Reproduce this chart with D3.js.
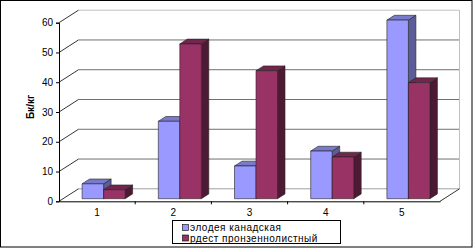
<!DOCTYPE html>
<html>
<head>
<meta charset="utf-8">
<script src="https://cdn.jsdelivr.net/npm/d3@7"></script>
<style>
  body { margin: 0; background: #fff; }
  svg { display: block; font-family: "Liberation Sans", Arial, sans-serif; }
</style>
</head>
<body>
<div id="chart"></div>
<script>
const categories = ['1', '2', '3', '4', '5'];
const seriesNames = ['элодея канадская', 'рдест пронзеннолистный'];
const elodea = [5, 26, 11, 16, 60];
const rdest = [3, 52, 43, 14, 39];
const yTicks = [0, 10, 20, 30, 40, 50, 60];

const W = 476, H = 249;
const svg = d3.select('#chart').append('svg').attr('width', W).attr('height', H);

// outer frame
svg.append('rect').attr('x', 0.5).attr('y', 0.5).attr('width', 471.5).attr('height', 246.5)
    .attr('fill', '#fff').attr('stroke', '#000');

const x = d3.scaleBand().domain(categories).range([59, 440]);
const y = d3.scaleLinear().domain([0, 60]).range([201.3, 22.7]);
const wall = { dx: 19.5, dy: -12.5 };   // depth of the back wall
const plane = { dx: 6.5, dy: -2.6 };    // where the bars stand
const bd = { dx: 7.5, dy: -4.8 };       // bar depth
const barW = 21.5;
const sx = d3.scaleBand().domain(seriesNames).range([-barW, barW]);

const colors = [
    { front: '#9999ff', side: '#5c5c99', top: '#7a7acc' },
    { front: '#993366', side: '#4d1a33', top: '#73264d' }
];

// back wall gridlines
svg.append('g').selectAll('line').data(yTicks).join('line')
    .attr('x1', 59 + wall.dx).attr('x2', 440 + wall.dx)
    .attr('y1', d => y(d) + wall.dy).attr('y2', d => y(d) + wall.dy)
    .attr('stroke', d => d === 60 ? '#c0c0c0' : (d === 0 ? '#a0a0a0' : '#707070'));
// right wall edge
svg.append('line').attr('x1', 440 + wall.dx).attr('x2', 440 + wall.dx)
    .attr('y1', y(60) + wall.dy).attr('y2', y(0) + wall.dy).attr('stroke', '#c0c0c0');
// side-wall diagonals
svg.append('g').selectAll('line').data(yTicks).join('line')
    .attr('x1', 59).attr('x2', 59 + wall.dx)
    .attr('y1', d => y(d)).attr('y2', d => y(d) + wall.dy)
    .attr('stroke', '#000').attr('stroke-width', 0.8);
// floor right diagonal
svg.append('line').attr('x1', 440).attr('y1', y(0)).attr('x2', 440 + wall.dx).attr('y2', y(0) + wall.dy)
    .attr('stroke', '#000').attr('stroke-width', 0.8);

// bars
const bars = [];
categories.forEach((c, i) => {
    [elodea[i], rdest[i]].forEach((v, s) => {
        bars.push({ c, s, v });
    });
});
const gBars = svg.append('g').attr('stroke', '#222').attr('stroke-width', 0.6).attr('stroke-linejoin', 'round');
bars.forEach(b => {
    const x0 = x(b.c) + x.bandwidth() / 2 + plane.dx + sx(seriesNames[b.s]);
    const x1 = x0 + barW;
    const yb = y(0) + plane.dy;
    const yt = y(b.v) + plane.dy;
    const col = colors[b.s];
    gBars.append('path')
        .attr('d', `M${x1},${yb}L${x1 + bd.dx},${yb + bd.dy}L${x1 + bd.dx},${yt + bd.dy}L${x1},${yt}Z`)
        .attr('fill', col.side);
    gBars.append('path')
        .attr('d', `M${x0},${yt}L${x0 + bd.dx},${yt + bd.dy}L${x1 + bd.dx},${yt + bd.dy}L${x1},${yt}Z`)
        .attr('fill', col.top);
    gBars.append('rect')
        .attr('x', x0).attr('y', yt).attr('width', barW).attr('height', yb - yt)
        .attr('fill', col.front);
});

// y axis
const yAxis = svg.append('g').attr('transform', 'translate(59,0)')
    .call(d3.axisLeft(y).tickValues(yTicks).tickSize(3).tickPadding(3));
yAxis.select('.domain').attr('stroke', '#000');
yAxis.selectAll('text').attr('font-size', 10).attr('fill', '#000')
    .attr('font-family', '"Liberation Sans", Arial, sans-serif');

// x axis
const xAxis = svg.append('g').attr('transform', `translate(0,${y(0)})`)
    .call(d3.axisBottom(x).tickSize(0).tickPadding(8));
xAxis.select('.domain').attr('stroke', '#000');
xAxis.selectAll('text').attr('font-size', 10).attr('fill', '#000')
    .attr('font-family', '"Liberation Sans", Arial, sans-serif');
svg.append('g').selectAll('line').data(categories.slice(1)).join('line')
    .attr('x1', d => x(d)).attr('x2', d => x(d))
    .attr('y1', y(0)).attr('y2', y(0) + 3).attr('stroke', '#000');

// y title
svg.append('text').attr('transform', 'translate(34,107) rotate(-90)')
    .attr('text-anchor', 'middle').attr('font-size', 10).attr('font-weight', 'bold')
    .text('Бк/кг');

// legend
const lg = svg.append('g').attr('transform', 'translate(172,220)');
lg.append('rect').attr('x', 0.5).attr('y', 0.5).attr('width', 168).attr('height', 23)
    .attr('fill', '#fff').attr('stroke', '#000');
seriesNames.forEach((n, i) => {
    lg.append('rect').attr('x', 10.5).attr('y', 4.5 + i * 10.5).attr('width', 6).attr('height', 6)
        .attr('fill', colors[i].front).attr('stroke', '#000').attr('stroke-width', 0.6);
    lg.append('text').attr('x', 18).attr('y', 7.5 + i * 10.5).attr('dy', '0.35em')
        .attr('font-size', 10).attr('letter-spacing', 0.5).text(n);
});
</script>
</body>
</html>
